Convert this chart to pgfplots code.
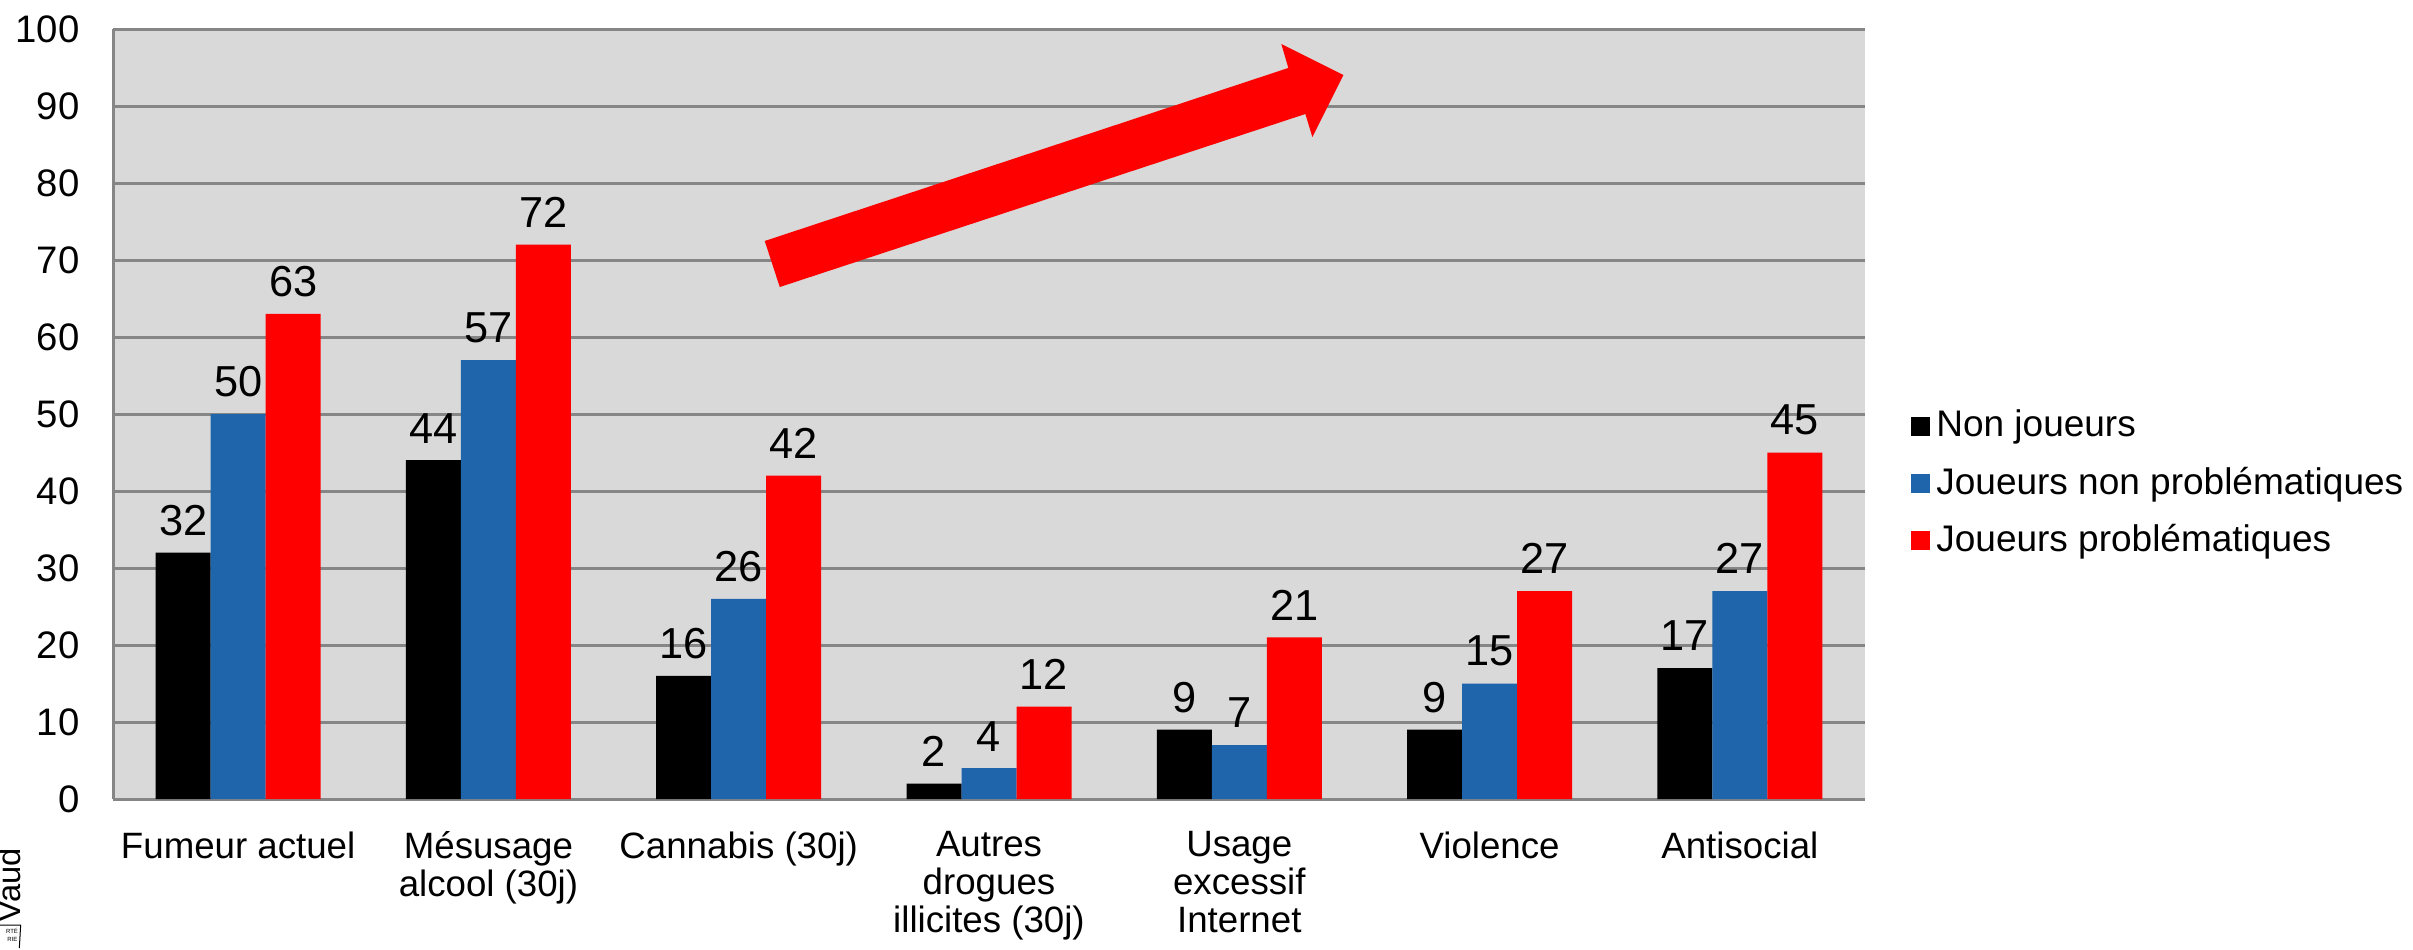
\documentclass[border=0pt]{standalone}
\usepackage{fontspec}
\setmainfont{Liberation Sans}
\usepackage{pgfplots}
\pgfplotsset{compat=1.18}
\definecolor{bgray}{RGB}{217,217,217}
\definecolor{gline}{RGB}{134,134,134}
\definecolor{jblue}{RGB}{31,101,172}
\definecolor{jred}{RGB}{255,0,0}
\begin{document}
\begin{tikzpicture}[x=1pt,y=1pt]
\useasboundingbox (0,0) rectangle (723.9,284.7);
\begin{axis}[
  at={(33.9pt,45pt)}, anchor=south west,
  scale only axis, width=525.6pt, height=231pt,
  ybar=0pt, bar width=16.5pt,
  xmin=-0.5, xmax=6.5, ymin=0, ymax=100,
  xtick={0,...,6},
  xticklabels={Fumeur actuel,{Mésusage\\alcool (30j)},Cannabis (30j),{Autres\\drogues\\illicites (30j)},{Usage\\excessif\\Internet},Violence,Antisocial},
  xticklabel style={align=center, font=\fontsize{11}{11.3}\selectfont, yshift=-6.2pt},
  ytick={0,10,...,100},
  yticklabel style={font=\fontsize{11.5}{13}\selectfont, xshift=-6.5pt},
  /pgf/number format/assume math mode=true,
  major tick length=0pt,
  axis x line*=bottom, axis y line*=left,
  axis line style={gline, line width=0.9pt, -},
  ymajorgrids, grid style={gline, line width=0.9pt},
  axis background/.style={fill=bgray},
  nodes near coords,
  every node near coord/.append style={font=\fontsize{13}{15}\selectfont, yshift=1.6pt},
  legend style={at={(1.02,0.41)}, anchor=west, draw=none, fill=none,
    font=\fontsize{11.1}{13}\selectfont, row sep=3.5pt},
  legend cell align=left,
  legend image code/.code={\fill[#1] (0pt,-2.85pt) rectangle (5.7pt,2.85pt);},
]
\addplot[fill=black, draw=none] coordinates {(0,32) (1,44) (2,16) (3,2) (4,9) (5,9) (6,17)};
\addplot[fill=jblue, draw=none] coordinates {(0,50) (1,57) (2,26) (3,4) (4,7) (5,15) (6,27)};
\addplot[fill=jred, draw=none] coordinates {(0,63) (1,72) (2,42) (3,12) (4,21) (5,27) (6,45)};
\legend{Non joueurs, Joueurs non problématiques, Joueurs problématiques}
\fill[jred] (axis cs:2.104,72.47) -- (axis cs:4.196,94.94) -- (axis cs:4.168,98.05)
  -- (axis cs:4.416,94.03) -- (axis cs:4.292,85.97) -- (axis cs:4.264,88.96)
  -- (axis cs:2.164,66.49) -- cycle;
\end{axis}
\node[rotate=90, anchor=base west, inner sep=0pt, font=\fontsize{9.8}{10}\selectfont] at (6.3,7.8) {Vaud};
\draw[line width=0.3pt] (0,7.2) -- (6.2,7.2) -- (5.8,0.3);
\node[font=\fontsize{1.8}{2}\selectfont, inner sep=0pt, anchor=east] at (5.6,5.5) {RTÉ};
\node[font=\fontsize{1.8}{2}\selectfont, inner sep=0pt, anchor=east] at (5.4,2.8) {RIE};
\end{tikzpicture}
\end{document}
